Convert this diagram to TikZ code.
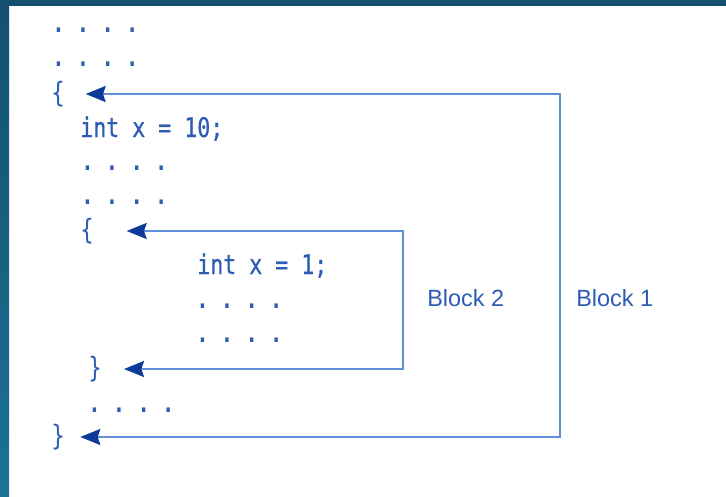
\documentclass[tikz,border=0pt]{standalone}
\usepackage{fontspec}
\usetikzlibrary{arrows.meta}
\newfontfamily\codefont[FakeStretch=0.8,FakeBold=0.6]{DejaVu Sans Mono}
\newfontfamily\dotfont[FakeStretch=0.8]{DejaVu Sans Mono Bold}
\newfontfamily\bracefont[FakeStretch=0.8]{DejaVu Sans Mono}
\newfontfamily\labelfont{Liberation Sans}
\definecolor{framedark}{RGB}{18,80,110}
\definecolor{framelight}{RGB}{28,114,150}
\definecolor{codeblue}{RGB}{45,92,180}
\definecolor{lineblue}{RGB}{96,144,214}
\definecolor{tipblue}{RGB}{12,58,152}

\tikzset{
  code/.style={anchor=base west, inner sep=0pt, text=codeblue, font=\codefont\fontsize{20.25}{20.25}\selectfont},
  dotrow/.style={anchor=base west, inner sep=0pt, text=codeblue, font=\dotfont\fontsize{19.2}{19.2}\selectfont\frenchspacing},
  brace/.style={inner sep=0pt, text=codeblue, font=\bracefont\fontsize{21}{21}\selectfont},
  blocklabel/.style={anchor=west, inner sep=0pt, text=codeblue, font=\labelfont\fontsize{17.6}{17.6}\selectfont},
  blockline/.style={draw=lineblue, line width=1.4pt, {Stealth[length=15pt,width=12pt,inset=2pt,color=tipblue]}-{Stealth[length=15pt,width=12pt,inset=2pt,color=tipblue]}}
}

\begin{document}
\begin{tikzpicture}[x=0.75pt,y=0.75pt,yscale=-1,xscale=1]
\useasboundingbox (0,0) rectangle (726,497);

% frame
\fill[white] (0,0) rectangle (726,497);
\fill[framedark] (0,0) rectangle (726,6);
\shade[top color=framedark, bottom color=framelight] (0,0) rectangle (9,497);

% Text Node
\draw (52,32) node[dotrow] (dotsa) {. . . .};
% Text Node
\draw (52,66) node[dotrow] (dotsb) {. . . .};
% Text Node
\draw (58,94) node[brace] (open1) {\{};
% Text Node
\draw (80,137) node[code] (decl1) {int x = 10;};
% Text Node
\draw (81,170) node[dotrow] (dotsc) {. . . .};
% Text Node
\draw (81,204) node[dotrow] (dotsd) {. . . .};
% Text Node
\draw (87,231) node[brace] (open2) {\{};
% Text Node
\draw (197,274) node[code] (decl2) {int x = 1;};
% Text Node
\draw (196,308) node[dotrow] (dotse) {. . . .};
% Text Node
\draw (196,342) node[dotrow] (dotsf) {. . . .};
% Text Node
\draw (95,369) node[brace] (close2) {\}};
% Text Node
\draw (88,412) node[dotrow] (dotsg) {. . . .};
% Text Node
\draw (58,437) node[brace] (close1) {\}};

% Text Node
\draw (427,298) node[blocklabel] (lbl2) {Block 2};
% Text Node
\draw (576,298) node[blocklabel] (lbl1) {Block 1};

\coordinate (side1) at (560,260);
\coordinate (side2) at (403,300);

%Block 1 connector
\draw [blockline, shorten <=15.5pt, shorten >=11.5pt] (open1.east) -| (side1) |- (close1.east);
%Block 2 connector
\draw [blockline, shorten <=24.5pt, shorten >=16.5pt] (open2.east) -| (side2) |- (close2.east);

\end{tikzpicture}
\end{document}
